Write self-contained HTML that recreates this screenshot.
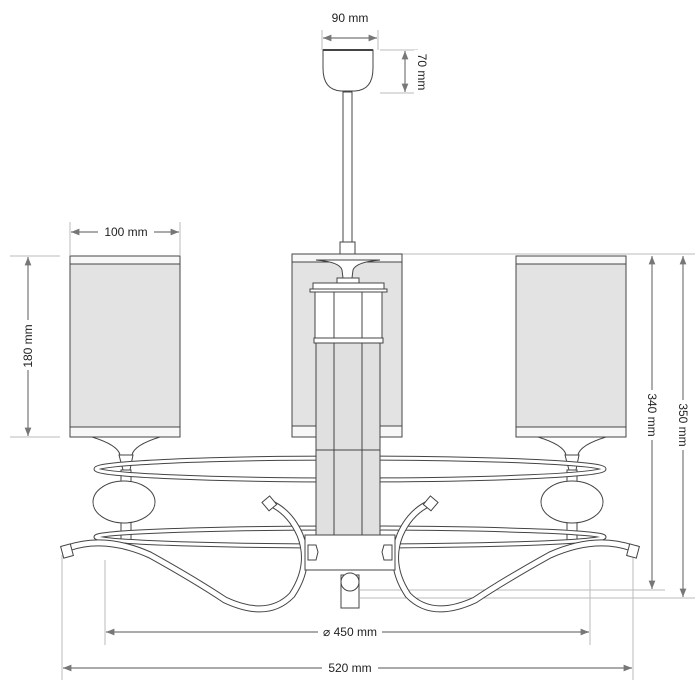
<!DOCTYPE html>
<html><head><style>
body{margin:0;background:#fff}
svg{display:block}
text{font-family:"Liberation Sans",sans-serif;font-size:12px;fill:#222}
</style></head><body>
<svg width="700" height="700" viewBox="0 0 700 700" xmlns="http://www.w3.org/2000/svg">
<defs>
<marker id="a" viewBox="0 0 10 10" refX="10" refY="5" markerWidth="9" markerHeight="7" orient="auto-start-reverse"><path d="M0,1 L10,5 L0,9 z" fill="#777"/></marker>
</defs>
<g stroke="#bbb" stroke-width="1" fill="none">
<line x1="322" y1="30" x2="322" y2="50"/><line x1="378" y1="30" x2="378" y2="50"/>
<line x1="380" y1="50" x2="418" y2="50"/><line x1="380" y1="93" x2="418" y2="93"/>
<line x1="70" y1="222" x2="70" y2="255"/><line x1="180" y1="222" x2="180" y2="255"/>
<line x1="10" y1="256" x2="60" y2="256"/><line x1="10" y1="437" x2="60" y2="437"/>
<line x1="402" y1="254" x2="695" y2="254"/>
<line x1="360" y1="590" x2="665" y2="590"/><line x1="360" y1="598" x2="695" y2="598"/>
<line x1="105" y1="560" x2="105" y2="645"/><line x1="590" y1="560" x2="590" y2="645"/>
<line x1="62" y1="555" x2="62" y2="680"/><line x1="633" y1="555" x2="633" y2="680"/>
</g>
<g stroke="#777" stroke-width="1.2" fill="none" marker-start="url(#a)" marker-end="url(#a)">
<line x1="323" y1="38" x2="377" y2="38"/>
<line x1="405" y1="51" x2="405" y2="92"/>
<line x1="71" y1="232" x2="179" y2="232"/>
<line x1="28" y1="257" x2="28" y2="436"/>
<line x1="652" y1="256" x2="652" y2="589"/>
<line x1="683" y1="256" x2="683" y2="597"/>
<line x1="106" y1="632" x2="589" y2="632"/>
<line x1="63" y1="668" x2="632" y2="668"/>
</g>
<g>
<rect x="332" y="11" width="36" height="15" fill="#fff"/><text x="350" y="22" text-anchor="middle">90 mm</text>
<rect x="98" y="225" width="56" height="14" fill="#fff"/><text x="126" y="236" text-anchor="middle">100 mm</text>
<rect x="20" y="320" width="16" height="50" fill="#fff"/><text transform="translate(32,346) rotate(-90)" text-anchor="middle">180 mm</text>
<rect x="414" y="50" width="16" height="44" fill="#fff"/><text transform="translate(418,72) rotate(90)" text-anchor="middle">70 mm</text>
<rect x="644" y="390" width="16" height="50" fill="#fff"/><text transform="translate(648,415) rotate(90)" text-anchor="middle">340 mm</text>
<rect x="675" y="400" width="16" height="50" fill="#fff"/><text transform="translate(679,425) rotate(90)" text-anchor="middle">350 mm</text>
<rect x="318" y="624" width="64" height="15" fill="#fff"/><text x="350" y="636" text-anchor="middle">⌀ 450 mm</text>
<rect x="322" y="660" width="56" height="15" fill="#fff"/><text x="350" y="672" text-anchor="middle">520 mm</text>
</g>
<g stroke="#444" stroke-width="1" >
<path d="M323,50 L373,50 L373,68 Q373,90 355,91 L341,91 Q323,90 323,68 Z" fill="#fff"/>
<line x1="323" y1="50" x2="373" y2="50" stroke-width="2"/>
<rect x="343" y="92" width="9" height="150" fill="#fff"/>
<rect x="70" y="256" width="110" height="181" fill="#e3e3e3"/>
<rect x="70" y="256" width="110" height="8" fill="#f7f7f7"/>
<rect x="70" y="427" width="110" height="10" fill="#f7f7f7"/>
<rect x="516" y="256" width="110" height="181" fill="#e3e3e3"/>
<rect x="516" y="256" width="110" height="8" fill="#f7f7f7"/>
<rect x="516" y="427" width="110" height="10" fill="#f7f7f7"/>
<rect x="292" y="254" width="110" height="183" fill="#e3e3e3"/>
<rect x="292" y="254" width="110" height="8" fill="#f7f7f7"/>
<rect x="292" y="426" width="110" height="11" fill="#f7f7f7"/>
<rect x="340" y="242" width="15" height="12" fill="#fff"/>
<path d="M316,260 Q340,262 342,270 L343,278 L352,278 L353,270 Q356,262 380,260 Z" fill="#fff"/>
<rect x="337" y="278" width="22" height="6" fill="#fff"/>
<rect x="316" y="290" width="64" height="245" fill="#e0e0e0"/>
<line x1="334" y1="290" x2="334" y2="535"/><line x1="362" y1="290" x2="362" y2="535"/>
<rect x="315" y="292" width="67" height="46" fill="#fff"/>
<line x1="334" y1="292" x2="334" y2="338"/><line x1="362" y1="292" x2="362" y2="338"/>
<rect x="314" y="338" width="69" height="5" fill="#fff"/>
<rect x="313" y="283" width="71" height="6" fill="#fff"/>
<rect x="310" y="289" width="77" height="3" fill="#fff"/>
<path d="M92,437 Q118,445 120,455 L132,455 Q134,445 160,437 Z" fill="#fff"/>
<path d="M119,455 L133,455 L130,470 L123,470 Z" fill="#fff"/>
<path d="M538,437 Q564,445 566,455 L578,455 Q580,445 606,437 Z" fill="#fff"/>
<path d="M565,455 L579,455 L576,470 L569,470 Z" fill="#fff"/>
<rect x="121" y="470" width="10" height="70" fill="#fff"/>
<rect x="567" y="470" width="10" height="70" fill="#fff"/>
</g>
<g fill="none">
<ellipse cx="350" cy="469" rx="254" ry="11" stroke="#444" stroke-width="5"/>
<ellipse cx="350" cy="469" rx="254" ry="11" stroke="#fff" stroke-width="3"/>
<ellipse cx="350" cy="537" rx="254" ry="9" stroke="#444" stroke-width="5"/>
<ellipse cx="350" cy="537" rx="254" ry="9" stroke="#fff" stroke-width="3"/>
</g>
<g stroke="#444" stroke-width="1" fill="#fff">
<rect x="316" y="450" width="64" height="85" fill="#e0e0e0"/>
<line x1="334" y1="450" x2="334" y2="535"/><line x1="362" y1="450" x2="362" y2="535"/>
<ellipse cx="124" cy="502" rx="31" ry="21"/>
<ellipse cx="572" cy="502" rx="31" ry="21"/>
</g>
<g fill="none">
<path d="M68,548 Q105,535 150,555 Q195,580 225,600 Q268,620 292,595 Q312,565 300,535 Q290,512 270,503" stroke="#444" stroke-width="7"/>
<path d="M68,548 Q105,535 150,555 Q195,580 225,600 Q268,620 292,595 Q312,565 300,535 Q290,512 270,503" stroke="#fff" stroke-width="5"/>
<path d="M632,548 Q595,535 550,555 Q505,580 475,600 Q432,620 408,595 Q388,565 400,535 Q410,512 430,503" stroke="#444" stroke-width="7"/>
<path d="M632,548 Q595,535 550,555 Q505,580 475,600 Q432,620 408,595 Q388,565 400,535 Q410,512 430,503" stroke="#fff" stroke-width="5"/>
</g>
<g stroke="#444" stroke-width="1" fill="#fff">
<rect x="62" y="545" width="10" height="12" transform="rotate(-15 67 551)"/>
<rect x="628" y="545" width="10" height="12" transform="rotate(15 633 551)"/>
<rect x="264" y="498" width="10" height="11" transform="rotate(-40 269 503)"/>
<rect x="426" y="498" width="10" height="11" transform="rotate(40 431 503)"/>
<rect x="305" y="535" width="90" height="35"/>
<path d="M308,545 L316,545 L318,552 L316,560 L308,560 Z"/>
<path d="M392,545 L384,545 L382,552 L384,560 L392,560 Z"/>
<rect x="341" y="575" width="18" height="33"/>
<circle cx="350" cy="582" r="9"/>
</g>
</svg>
</body></html>
